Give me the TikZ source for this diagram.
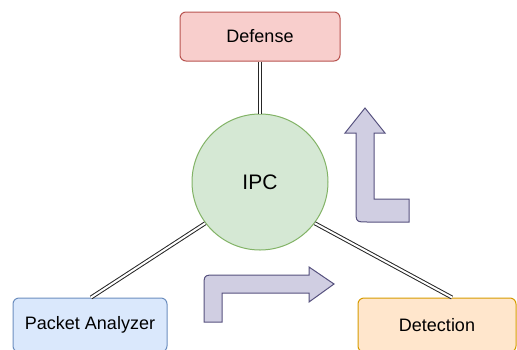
\documentclass[tikz,border=0pt]{standalone}
\usepackage{fontspec}
\setmainfont{Liberation Sans}
\definecolor{redfill}{HTML}{F8CECC}
\definecolor{redline}{HTML}{B85450}
\definecolor{greenfill}{HTML}{D5E8D4}
\definecolor{greenline}{HTML}{82B366}
\definecolor{bluefill}{HTML}{DAE8FC}
\definecolor{blueline}{HTML}{6C8EBF}
\definecolor{orangefill}{HTML}{FFE6CC}
\definecolor{orangeline}{HTML}{D79B00}
\definecolor{purplefill}{HTML}{D0CEE2}
\definecolor{purpleline}{HTML}{56517E}
\begin{document}
\begin{tikzpicture}[x=1pt,y=-1pt,
  box/.style={draw, rounded corners=6pt, line width=1pt, inner sep=0pt,
    font=\fontsize{18}{20}\selectfont},
  link/.style={draw=black!85, line width=1pt, double=white, double distance=2pt},
  bigarrow/.style={fill=purplefill, draw=purpleline, line width=1pt, line join=miter}]
\useasboundingbox (0,0) rectangle (517,349);
\clip (0,0) rectangle (517,349);

\node[box, fill=redfill, draw=redline, minimum width=160pt, minimum height=49pt]
  (def) at (260,36.5) {Defense};
\node[box, fill=bluefill, draw=blueline, minimum width=154pt, minimum height=54pt]
  (pa) at (90,325) {Packet Analyzer};
\node[box, fill=orangefill, draw=orangeline, minimum width=158pt, minimum height=54pt]
  (det) at (437,325) {Detection};
\node[circle, fill=greenfill, draw=greenline, line width=1pt, minimum size=136pt,
  inner sep=0pt, font=\fontsize{21}{24}\selectfont] (ipc) at (260,182) {IPC};

\coordinate (detin) at ([xshift=15pt]det.north);
\coordinate (pain) at ([xshift=1pt]pa.north);

\draw[link] (def.south) -- (ipc.north);
\draw[link] (ipc.-143) -- (pain);
\draw[link] (ipc.-37) -- (detin);

\draw[bigarrow] (365,108) -- (385,133) -- (374,133) -- (374,199) -- (409,199)
  -- (409,222) -- (368,222) .. controls (356,222) .. (356,210) -- (356,133)
  -- (345,133) -- cycle;
\draw[bigarrow] (334,284) -- (309,302) -- (309,293) -- (222,293) -- (222,322)
  -- (204,322) -- (204,287) .. controls (204,275) .. (216,275) -- (309,275)
  -- (309,267) -- cycle;
\end{tikzpicture}
\end{document}
